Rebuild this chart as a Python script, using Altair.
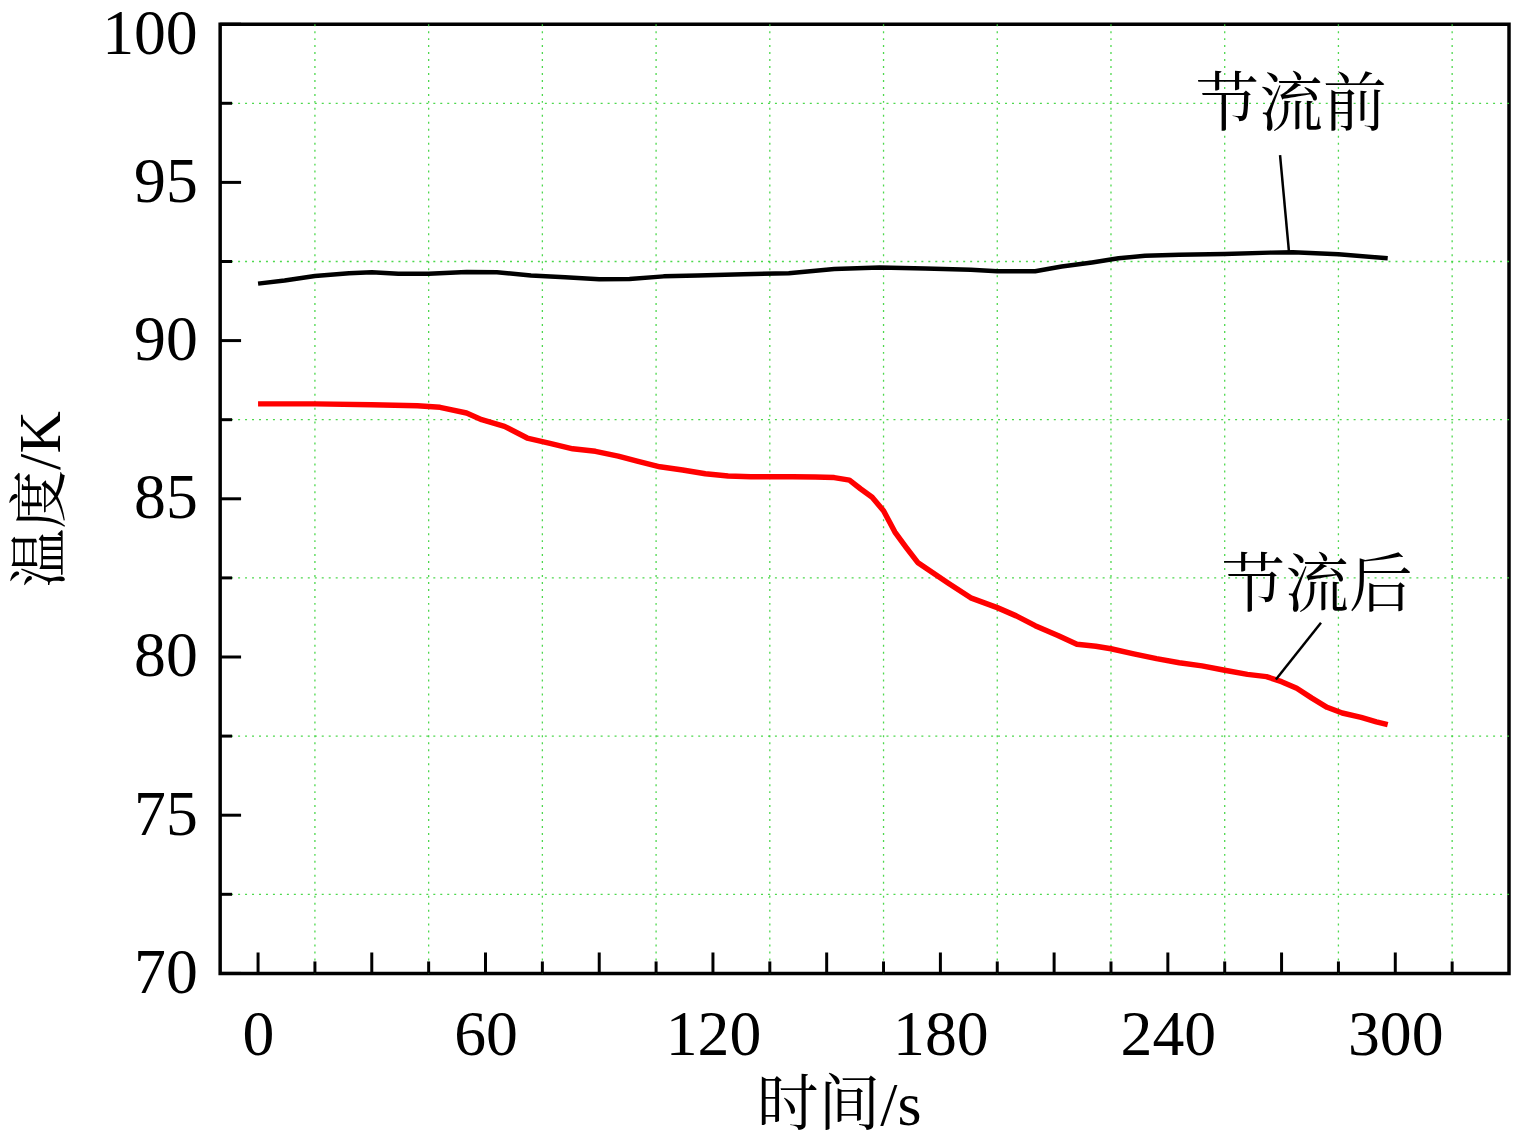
import altair as alt
import pandas as pd

# ---- data ----
time_before = [0, 7, 15, 24, 30, 37, 45, 55, 63, 72, 81, 90, 98, 107, 116, 128, 140,
               152, 164, 176, 188, 195, 205, 212, 220, 227, 234, 243, 255, 267, 273, 285, 298]
temp_before = [91.80, 91.90, 92.04, 92.13, 92.16, 92.11, 92.11, 92.17, 92.16, 92.06, 92.00,
               91.94, 91.95, 92.03, 92.06, 92.10, 92.13, 92.26, 92.31, 92.28, 92.24, 92.19,
               92.19, 92.34, 92.47, 92.60, 92.68, 92.71, 92.74, 92.78, 92.79, 92.73, 92.60]

time_after = [0, 15, 30, 42, 48, 55, 59, 65, 71, 77, 83, 89, 95, 100, 106, 112, 118, 124,
              130, 136, 141, 147, 152, 156, 159, 162, 165, 168, 171, 174, 178, 182, 188,
              195, 200, 205, 211, 216, 221, 225, 231, 237, 243, 249, 255, 261, 266, 270,
              274, 278, 282, 286, 291, 295, 298]
temp_after = [88.00, 88.00, 87.97, 87.94, 87.89, 87.71, 87.50, 87.29, 86.92, 86.75, 86.58,
              86.50, 86.35, 86.19, 86.01, 85.91, 85.79, 85.72, 85.70, 85.70, 85.70, 85.69,
              85.67, 85.59, 85.31, 85.05, 84.62, 83.95, 83.46, 82.99, 82.66, 82.34, 81.87,
              81.56, 81.30, 80.99, 80.68, 80.40, 80.34, 80.26, 80.10, 79.95, 79.82, 79.72,
              79.58, 79.45, 79.38, 79.22, 79.01, 78.70, 78.41, 78.23, 78.09, 77.95, 77.86]

x_labels = [0, 60, 120, 180, 240, 300]
x_major_ticks = [0, 30, 60, 90, 120, 150, 180, 210, 240, 270, 300]
x_minor_ticks = [15, 45, 75, 105, 135, 165, 195, 225, 255, 285, 315]
y_major_ticks = [70, 75, 80, 85, 90, 95, 100]
y_minor_ticks = [72.5, 77.5, 82.5, 87.5, 92.5, 97.5]

ann_text = ["节流前", "节流后"]
ann_x = [272.5, 279.4]
ann_y = [97.4, 82.2]
lead_x = [269.6, 280.4]
lead_y = [95.86, 81.08]
lead_x2 = [272.0, 268.5]
lead_y2 = [92.75, 79.29]

# ---- layout ----
W, H = 1294, 953
FONT = "Liberation Serif, 'Noto Serif CJK SC', 'Noto Sans CJK SC'"

xscale = alt.Scale(domain=[-10, 330], nice=False, zero=False)
yscale = alt.Scale(domain=[70, 100], nice=False, zero=False)

xaxis = alt.Axis(values=x_labels, title="时间/s", grid=False, ticks=False, tickSize=0,
                 domain=False, labelPadding=30, labelFlush=False, labelOverlap=False,
                 titleX=621, titleY=133, titleAlign="center", titleBaseline="middle",
                 titleFontSize=62)
yaxis = alt.Axis(values=y_major_ticks, title="温度/K", grid=False, ticks=False, tickSize=0,
                 domain=False, labelPadding=23, labelFlush=False, labelOverlap=False,
                 labelOffset={"condition": {"test": "datum.value === 100", "value": 10}, "value": 0},
                 titleX=-179, titleY=476.5, titleAngle=270, titleAlign="center",
                 titleBaseline="middle", titleFontSize=59)


def X(f):
    return alt.X(f, type="quantitative", scale=xscale, axis=xaxis)


def Y(f):
    return alt.Y(f, type="quantitative", scale=yscale, axis=yaxis)


df_before = pd.DataFrame({"t": time_before, "T": temp_before})
df_after = pd.DataFrame({"t": time_after, "T": temp_after})

grid_color = "#3ad43a"
vgrid = alt.Chart(pd.DataFrame({"v": x_minor_ticks})).mark_rule(
    color=grid_color, strokeDash=[2, 5], strokeWidth=1.3, opacity=0.9
).encode(x=X("v"))
hgrid = alt.Chart(pd.DataFrame({"v": y_minor_ticks})).mark_rule(
    color=grid_color, strokeDash=[2, 5], strokeWidth=1.3, opacity=0.9
).encode(y=Y("v"))

xmaj = alt.Chart(pd.DataFrame({"v": x_major_ticks})).mark_rule(
    color="black", strokeWidth=3).encode(x=X("v"), y=alt.value(H), y2=alt.value(H - 21))
xmin = alt.Chart(pd.DataFrame({"v": x_minor_ticks})).mark_rule(
    color="black", strokeWidth=3).encode(x=X("v"), y=alt.value(H), y2=alt.value(H - 12))
ymaj = alt.Chart(pd.DataFrame({"v": y_major_ticks})).mark_rule(
    color="black", strokeWidth=3).encode(y=Y("v"), x=alt.value(0), x2=alt.value(21))
ymin = alt.Chart(pd.DataFrame({"v": y_minor_ticks})).mark_rule(
    color="black", strokeWidth=3).encode(y=Y("v"), x=alt.value(0), x2=alt.value(12))

line_before = alt.Chart(df_before).mark_line(
    color="black", strokeWidth=4.5, strokeJoin="round").encode(x=X("t"), y=Y("T"))
line_after = alt.Chart(df_after).mark_line(
    color="#ff0000", strokeWidth=5.5, strokeJoin="round").encode(x=X("t"), y=Y("T"))

leaders = alt.Chart(pd.DataFrame({"x": lead_x, "y": lead_y, "x2": lead_x2, "y2": lead_y2})).mark_rule(
    color="black", strokeWidth=2.5
).encode(x=X("x"), y=Y("y"), x2=alt.X2("x2"), y2=alt.Y2("y2"))

labels = alt.Chart(pd.DataFrame({"x": ann_x, "y": ann_y, "s": ann_text})).mark_text(
    font=FONT, fontSize=64, color="black", align="center", baseline="middle"
).encode(x=X("x"), y=Y("y"), text="s:N")

chart = alt.layer(
    vgrid, hgrid, xmaj, xmin, ymaj, ymin, line_before, line_after, leaders, labels
).properties(
    width=W, height=H,
    autosize=alt.AutoSizeParams(type="none"),
    padding={"left": 213, "top": 14, "right": 3, "bottom": 162},
    background="white",
).configure_view(
    stroke="black", strokeWidth=3.5
).configure_axis(
    labelFont=FONT, labelFontSize=64, labelColor="black",
    titleFont=FONT, titleFontSize=62, titleFontWeight="normal", titleColor="black",
)

chart.save("out.html", embed_options={"renderer": "svg", "actions": False})
